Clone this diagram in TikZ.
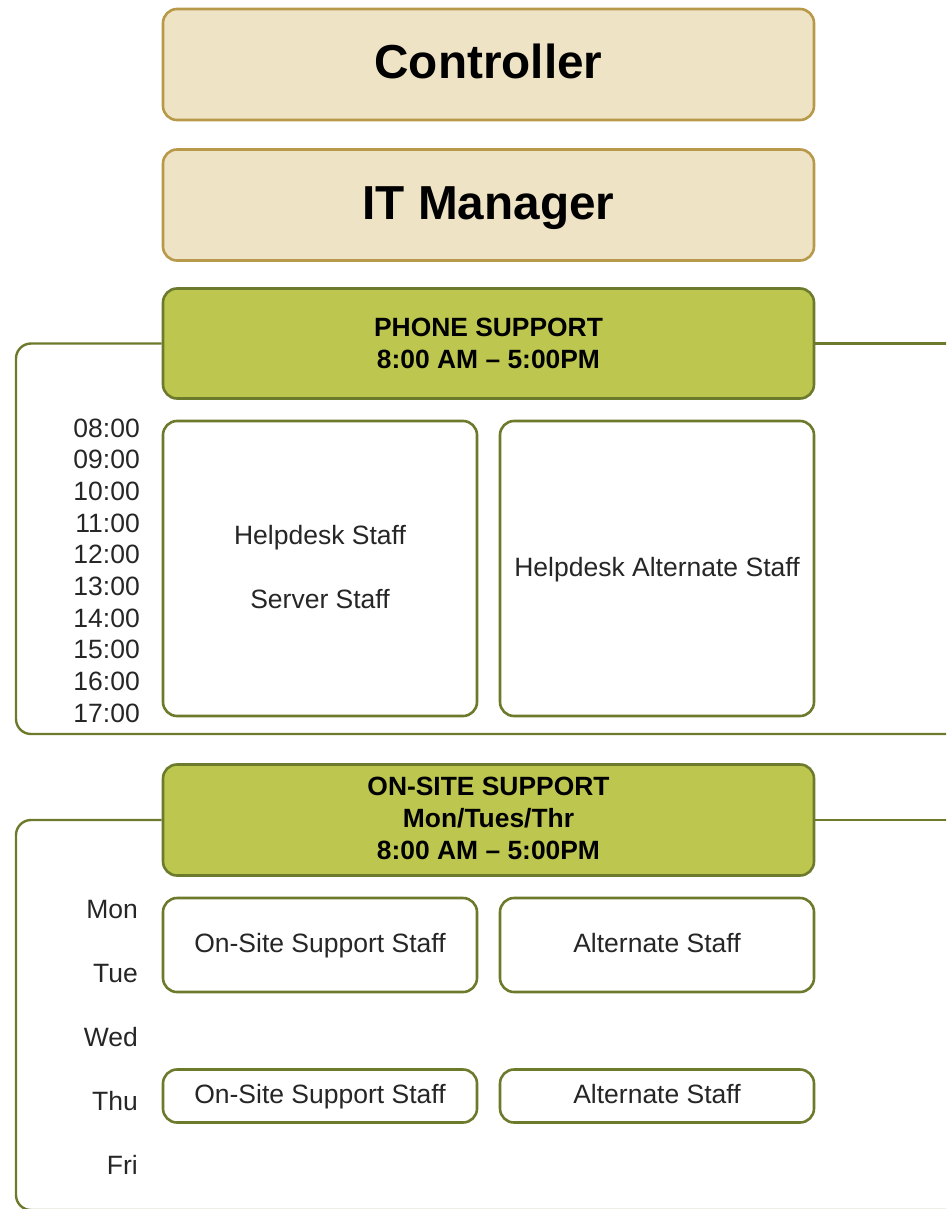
\documentclass[tikz,border=0pt]{standalone}
\usepackage{fontspec}
\setmainfont{Liberation Sans}
\definecolor{tanfill}{HTML}{EEE3C4}
\definecolor{tanline}{HTML}{B8994A}
\definecolor{greenfill}{HTML}{BDC74F}
\definecolor{oliveline}{HTML}{6C7A2C}
\definecolor{inktext}{HTML}{262626}
\begin{document}
\begin{tikzpicture}[x=1pt,y=-1pt,
  rolebox/.style={draw=tanline, fill=tanfill, line width=2.6pt, rounded corners=14pt,
    minimum width=651pt, minimum height=111pt, inner sep=0pt,
    text height=34pt, text depth=5pt,
    font=\fontsize{47.7}{56}\selectfont\bfseries, text=black},
  bandbox/.style={draw=oliveline, fill=greenfill, line width=2.6pt, rounded corners=14pt,
    minimum width=651pt, minimum height=110pt, inner sep=0pt, align=center,
    font=\fontsize{26.4}{32}\selectfont\bfseries, text=black},
  staffbox/.style={draw=oliveline, fill=white, line width=2.6pt, rounded corners=14pt,
    minimum width=314pt, inner sep=0pt},
  stafftext/.style={inner sep=0pt, text=inktext, text height=19pt, text depth=4pt,
    font=\fontsize{26.5}{30}\selectfont},
  ticklabel/.style={inner sep=0pt, anchor=east, text=inktext,
    font=\fontsize{26.5}{30}\selectfont},
  frame/.style={draw=oliveline, line width=2.4pt, rounded corners=15pt}
]
\useasboundingbox (0,0) rectangle (946,1209);

% management boxes
\node[rolebox] (ctrl) at (488.5,64.5) {Controller};
\node[rolebox] (itm) at (488.5,205) {IT Manager};

% phone support band and its open frame
\node[bandbox] (phone) at (488.5,343.5) {PHONE SUPPORT\\8:00 AM -- 5:00PM};
\coordinate (phoneR) at (960,343.5);
\coordinate (phoneBL) at (16,734);
\coordinate (phoneBR) at (960,734);
\begin{scope}
  \clip (0,0) rectangle (946,1209);
  \draw[frame] (phone.west) -| (phoneBL) -- (phoneBR);
  \draw[frame] (phone.east) -- (phoneR);
\end{scope}

\node[staffbox, minimum height=295pt] (hd) at (320,568.5) {};
\node[staffbox, minimum height=295pt] (hdalt) at (657,568.5) {};
\node[stafftext] (hdtxt) at ([yshift=32pt]hd.center) {Helpdesk Staff};
\node[stafftext] (srvtxt) at ([yshift=-32pt]hd.center) {Server Staff};
\node[stafftext] (hdalttxt) at (hdalt.center) {Helpdesk Alternate Staff};

% hours
\foreach \h [count=\i from 0] in {08,09,10,11,12,13,14,15,16,17}
  \node[ticklabel] (hr\h) at (140,428+31.67*\i) {\h:00};

% on-site support band and its open frame
\node[bandbox, minimum height=111pt] (onsite) at (488.5,820) {};
\node[bandbox, draw=none, fill=none, minimum width=0pt, minimum height=0pt] (onsitetxt)
  at (488.5,818.5) {ON-SITE SUPPORT\\Mon/Tues/Thr\\8:00 AM -- 5:00PM};
\coordinate (onsiteR) at (960,820);
\coordinate (onsiteBL) at (16,1210);
\coordinate (onsiteBR) at (960,1210);
\begin{scope}
  \clip (0,0) rectangle (946,1209);
  \draw[frame] (onsite.west) -| (onsiteBL) -- (onsiteBR);
  \draw[frame] (onsite.east) -- (onsiteR);
\end{scope}

\node[staffbox, minimum height=94pt] (os1) at (320,945) {};
\node[staffbox, minimum height=94pt] (alt1) at (657,945) {};
\node[staffbox, minimum height=53pt] (os2) at (320,1096) {};
\node[staffbox, minimum height=53pt] (alt2) at (657,1096) {};
\node[stafftext] (os1txt) at (os1.center) {On-Site Support Staff};
\node[stafftext] (alt1txt) at (alt1.center) {Alternate Staff};
\node[stafftext] (os2txt) at (os2.center) {On-Site Support Staff};
\node[stafftext] (alt2txt) at (alt2.center) {Alternate Staff};

% weekdays
\foreach \d [count=\i from 0] in {Mon,Tue,Wed,Thu,Fri}
  \node[ticklabel] (day\d) at (138,910+63.75*\i) {\d};
\end{tikzpicture}
\end{document}
